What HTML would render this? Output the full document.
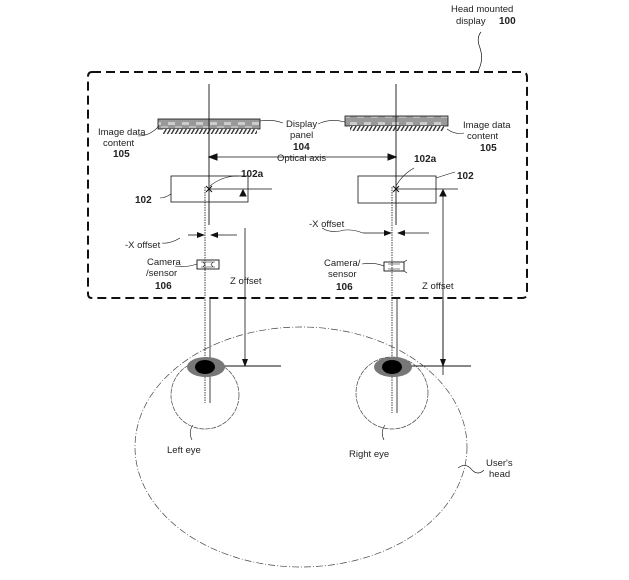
<!DOCTYPE html>
<html><head><style>
html,body{margin:0;padding:0;background:#fff;}
svg{display:block;}
text{font-family:"Liberation Sans",sans-serif;font-size:9.5px;fill:#222;}
.b{font-weight:bold;font-size:10px;}
</style></head><body>
<svg width="629" height="580" viewBox="0 0 629 580" xmlns="http://www.w3.org/2000/svg">
<defs>
<marker id="ar" markerWidth="8" markerHeight="6" refX="7" refY="3" orient="auto" markerUnits="userSpaceOnUse"><path d="M0,0 L8,3 L0,6z" fill="#111"/></marker>
<pattern id="hat" width="4" height="5" patternUnits="userSpaceOnUse" patternTransform="skewX(-30)"><rect width="4" height="5" fill="#fff"/><rect width="1.6" height="5" fill="#333"/></pattern>
<pattern id="pan" width="14" height="10" patternUnits="userSpaceOnUse"><rect width="14" height="10" fill="#999"/><rect x="0" y="2" width="7" height="3" fill="#ccc"/><rect x="7" y="6" width="7" height="2" fill="#bbb"/></pattern>
</defs>
<g stroke="#111" fill="none">
<path d="M92,72 H522 Q527,72 527,77 V294 Q527,298 522,298 H92 Q88,298 88,294 V77 Q88,72 92,72" stroke-width="2" stroke-dasharray="9,5"/>
<path d="M478,71 Q484,60 480,48 Q476,38 481,32" stroke-width="0.7"/>
<rect x="158" y="119" width="102" height="10" fill="url(#pan)" stroke-width="0.8"/>
<rect x="163" y="129" width="94" height="5" fill="url(#hat)" stroke="none"/>
<rect x="345" y="116" width="103" height="10" fill="url(#pan)" stroke-width="0.8"/>
<rect x="350" y="126" width="94" height="5" fill="url(#hat)" stroke="none"/>
<line x1="209" y1="84" x2="209" y2="225" stroke-width="0.9"/>
<line x1="396" y1="84" x2="396" y2="225" stroke-width="0.9"/>
<line x1="205" y1="187" x2="205" y2="403" stroke-width="0.8" stroke-dasharray="1.5,1"/>
<line x1="392" y1="187" x2="392" y2="413" stroke-width="0.8" stroke-dasharray="1.5,1"/>
<line x1="210" y1="298" x2="210" y2="403" stroke-width="0.8"/>
<line x1="397" y1="298" x2="397" y2="413" stroke-width="0.8"/>
<line x1="215" y1="157" x2="390" y2="157" stroke-width="0.8"/>
<path d="M209,157 l8,-3 v6z M396,157 l-8,-3 v6z" fill="#111"/>
<rect x="171" y="176" width="77" height="26" stroke-width="0.8"/>
<rect x="358" y="176" width="78" height="27" stroke-width="0.8"/>
<line x1="209" y1="189" x2="272" y2="189" stroke-width="0.8"/>
<line x1="396" y1="189" x2="458" y2="189" stroke-width="0.8"/>
<path d="M206,186 l6,6 M212,186 l-6,6 M393,186 l6,6 M399,186 l-6,6" stroke-width="1"/>
<path d="M243,190 l-3,6 h6z M443,190 l-3,6 h6z" fill="#111"/>
<line x1="443" y1="196" x2="443" y2="375" stroke-width="0.8"/>
<line x1="245" y1="228" x2="245" y2="366" stroke-width="0.8" marker-end="url(#ar)"/>
<line x1="443" y1="300" x2="443" y2="366" stroke-width="0.8" marker-end="url(#ar)"/>
<line x1="188" y1="235" x2="204" y2="235" stroke-width="0.8" marker-end="url(#ar)"/>
<line x1="237" y1="235" x2="211" y2="235" stroke-width="0.8" marker-end="url(#ar)"/>
<line x1="363" y1="233" x2="391" y2="233" stroke-width="0.8" marker-end="url(#ar)"/>
<line x1="429" y1="233" x2="398" y2="233" stroke-width="0.8" marker-end="url(#ar)"/>
<path d="M180,238 Q170,244 162,243" stroke-width="0.6"/>
<path d="M363,233 Q350,228 340,231 Q330,233 322,228" stroke-width="0.6"/>
<rect x="197" y="260" width="22" height="9" stroke-width="0.9"/>
<path d="M201,262 h14 M201,267 h14 M203,262 l2,2.5 l-2,2.5 M213,262 l-2,2.5 l2,2.5" stroke-width="0.6"/>
<rect x="384" y="262" width="20" height="9" stroke-width="0.9"/>
<path d="M388,264 h12 M388,269 h12 M404,262 l3,-2 M404,271 l3,2" stroke-width="0.6"/>
<path d="M197,264 Q185,268 175,266" stroke-width="0.6"/>
<path d="M384,266 Q374,262 362,264" stroke-width="0.6"/>
<path d="M159,126 Q150,136 138,136" stroke-width="0.6"/>
<path d="M447,129 Q455,135 464,133" stroke-width="0.6"/>
<path d="M260,121 Q272,119 283,123" stroke-width="0.6"/>
<path d="M318,124 Q330,118 345,122" stroke-width="0.6"/>
<path d="M171,194 Q165,198 160,198" stroke-width="0.6"/>
<path d="M210,186 Q222,176 238,176" stroke-width="0.6"/>
<path d="M396,186 Q402,175 414,168" stroke-width="0.6"/>
<path d="M436,178 Q445,175 455,172" stroke-width="0.6"/>
<line x1="205" y1="366" x2="281" y2="366" stroke-width="0.9"/>
<line x1="392" y1="366" x2="471" y2="366" stroke-width="0.9"/>
<circle cx="205" cy="395" r="34" stroke-width="0.7" stroke="#444" stroke-dasharray="5,1"/>
<circle cx="392" cy="393" r="36" stroke-width="0.7" stroke="#444" stroke-dasharray="5,1"/>
<ellipse cx="301" cy="447" rx="166" ry="120" stroke-width="0.7" stroke="#444" stroke-dasharray="7,2,1,2"/>
<path d="M193,425 Q188,432 192,440" stroke-width="0.6"/>
<path d="M385,425 Q380,432 384,440" stroke-width="0.6"/>
<path d="M458,468 Q466,462 472,470 Q478,476 484,470" stroke-width="0.6"/>
</g>
<ellipse cx="206" cy="367" rx="19" ry="10" fill="#777"/>
<ellipse cx="205" cy="367" rx="10" ry="7" fill="#000"/>
<ellipse cx="393" cy="367" rx="19" ry="10" fill="#777"/>
<ellipse cx="392" cy="367" rx="10" ry="7" fill="#000"/>
<text x="451" y="12">Head mounted</text>
<text x="456" y="24">display</text><text x="499" y="24" class="b">100</text>
<text x="98" y="135">Image data</text>
<text x="103" y="146">content</text>
<text x="113" y="157" class="b">105</text>
<text x="286" y="127">Display</text>
<text x="290" y="138">panel</text>
<text x="293" y="150" class="b">104</text>
<text x="463" y="128">Image data</text>
<text x="467" y="139">content</text>
<text x="480" y="151" class="b">105</text>
<text x="277" y="161">Optical axis</text>
<text x="241" y="177" class="b">102a</text>
<text x="414" y="162" class="b">102a</text>
<text x="135" y="203" class="b">102</text>
<text x="457" y="179" class="b">102</text>
<text x="125" y="248">-X offset</text>
<text x="309" y="227">-X offset</text>
<text x="147" y="265">Camera</text>
<text x="146" y="276">/sensor</text>
<text x="155" y="289" class="b">106</text>
<text x="324" y="266">Camera/</text>
<text x="328" y="277">sensor</text>
<text x="336" y="290" class="b">106</text>
<text x="230" y="284">Z offset</text>
<text x="422" y="289">Z offset</text>
<text x="167" y="453">Left eye</text>
<text x="349" y="457">Right eye</text>
<text x="486" y="466">User's</text>
<text x="489" y="477">head</text>
</svg>
</body></html>
